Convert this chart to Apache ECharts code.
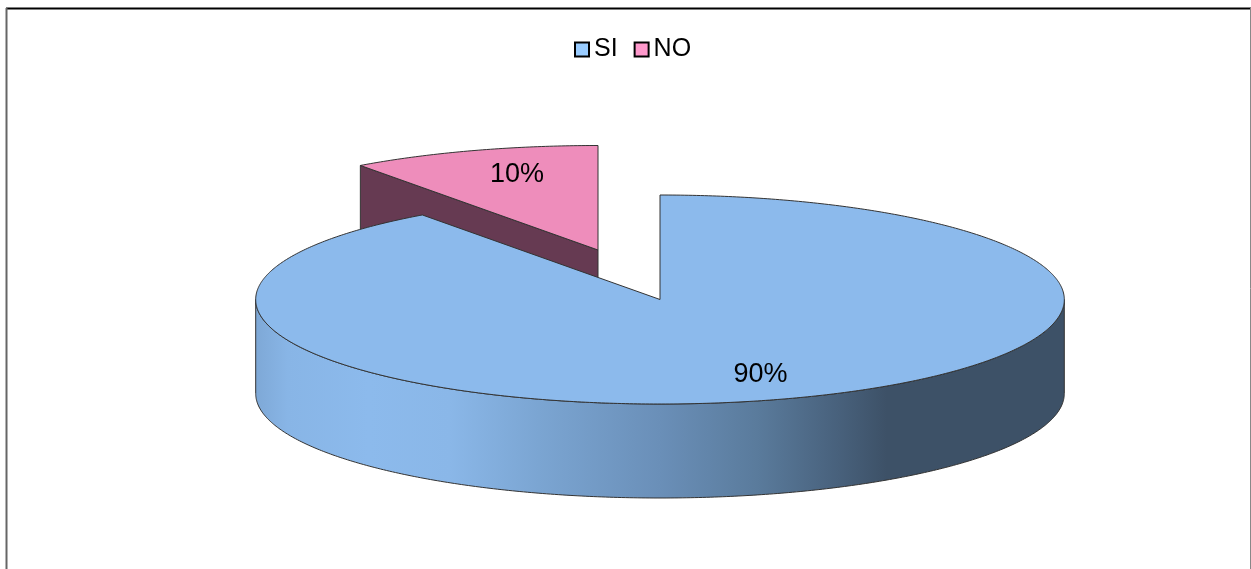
<!DOCTYPE html>
<html><head><meta charset="utf-8">
<style>html,body{margin:0;padding:0;background:#fff}#c{width:1251px;height:569px}</style>
<script src="https://cdn.jsdelivr.net/npm/echarts@6/dist/echarts.min.js"></script>
</head><body><div id="c"></div>
<script>
const categories = ['SI', 'NO'];
const values = [90, 10];
const legendColors = ['#99ccff', '#ff99cc'];
const topColors = ['#8cbaec', '#ee8dbb'];
const cutColors = ['#3d5167', '#663a52'];

const pie = { cx: 660, cy: 299.5, rx: 404.3, ry: 104.5, depth: 94 };
const explode = [[0, 0], [-62, -49.5]];
const labelPos = [[760.5, 375], [517, 174.5]];
const wallStops = [
  [0, '#7ea8d6'], [0.04, '#88b5e6'], [0.14, '#8cbaec'], [0.24, '#8ab7e8'],
  [0.35, '#7ba5d2'], [0.5, '#6a8fb8'], [0.62, '#5a7b9c'], [0.72, '#48617c'],
  [0.78, '#3d5167'], [1, '#3d5167']
];

const total = values.reduce((a, b) => a + b, 0);
function pt(a, ox, oy, dy) {
  return [pie.cx + ox + pie.rx * Math.sin(a), pie.cy + oy - pie.ry * Math.cos(a) + (dy || 0)];
}
function arc(a0, a1, ox, oy, dy) {
  const n = Math.max(2, Math.ceil(Math.abs(a1 - a0) / 0.01)), out = [];
  for (let i = 0; i <= n; i++) out.push(pt(a0 + (a1 - a0) * i / n, ox, oy, dy));
  return out;
}
const line = { stroke: '#333', lineWidth: 1 };

function makeRender(idx) {
  return function (params, api) {
    const before = values.slice(0, idx).reduce((a, b) => a + b, 0);
    const a0 = before / total * 2 * Math.PI;
    const a1 = (before + api.value(0)) / total * 2 * Math.PI;
    const [ox, oy] = explode[idx];
    const apex = [pie.cx + ox, pie.cy + oy];
    const children = [];
    // cut face visible on the side facing the viewer (only for the small exploded slice)
    if (idx === 1) {
      const rim = pt(a0, ox, oy);
      children.push({ type: 'polygon', shape: { points: [rim, apex, [apex[0], apex[1] + pie.depth], [rim[0], rim[1] + pie.depth]] },
        style: Object.assign({ fill: cutColors[idx] }, line) });
    }
    // outer wall
    const lo = Math.max(a0, Math.PI / 2), hi = Math.min(a1, 3 * Math.PI / 2);
    if (hi > lo) {
      const pts = arc(lo, hi, ox, oy).concat(arc(hi, lo, ox, oy, pie.depth));
      children.push({ type: 'polygon', shape: { points: pts },
        style: Object.assign({ fill: new echarts.graphic.LinearGradient(0, 0, 1, 0,
          wallStops.map(s => ({ offset: s[0], color: s[1] }))) }, line) });
    }
    // top face
    children.push({ type: 'polygon', shape: { points: [apex].concat(arc(a0, a1, ox, oy)) },
      style: Object.assign({ fill: topColors[idx] }, line) });
    // percentage label
    children.push({ type: 'text', style: {
      text: Math.round(api.value(0) / total * 100) + '%',
      x: labelPos[idx][0], y: labelPos[idx][1], align: 'center', verticalAlign: 'middle',
      fill: '#000', font: '27px "Liberation Sans", Arial, sans-serif' } });
    return { type: 'group', children };
  };
}

const chart = echarts.init(document.getElementById('c'), null, { renderer: 'canvas' });
chart.setOption({
  animation: false,
  backgroundColor: '#fff',
  legend: {
    data: categories, left: 574, top: 37, icon: 'rect', itemWidth: 14, itemHeight: 14,
    itemGap: 16, padding: 0, selectedMode: false,
    textStyle: { fontSize: 25, fontFamily: '"Liberation Sans", Arial, sans-serif', color: '#000', padding: [4, 0, 0, 0] }
  },
  graphic: [
    { type: 'line', silent: true, shape: { x1: 6, y1: 8.5, x2: 1251, y2: 8.5 }, style: { stroke: '#000', lineWidth: 2 } },
    { type: 'line', silent: true, shape: { x1: 6.5, y1: 8, x2: 6.5, y2: 569 }, style: { stroke: '#666', lineWidth: 2 } },
    { type: 'line', silent: true, shape: { x1: 1250.5, y1: 8, x2: 1250.5, y2: 569 }, style: { stroke: '#888', lineWidth: 1 } }
  ],
  // NO is drawn first, because the SI slice sits in front of it
  series: [1, 0].map(i => ({
    type: 'custom', name: categories[i], coordinateSystem: 'none', silent: true,
    z: i === 0 ? 3 : 2,
    data: [[values[i]]],
    itemStyle: { color: legendColors[i], borderColor: '#000', borderWidth: 2 },
    renderItem: makeRender(i)
  }))
});
</script></body></html>
